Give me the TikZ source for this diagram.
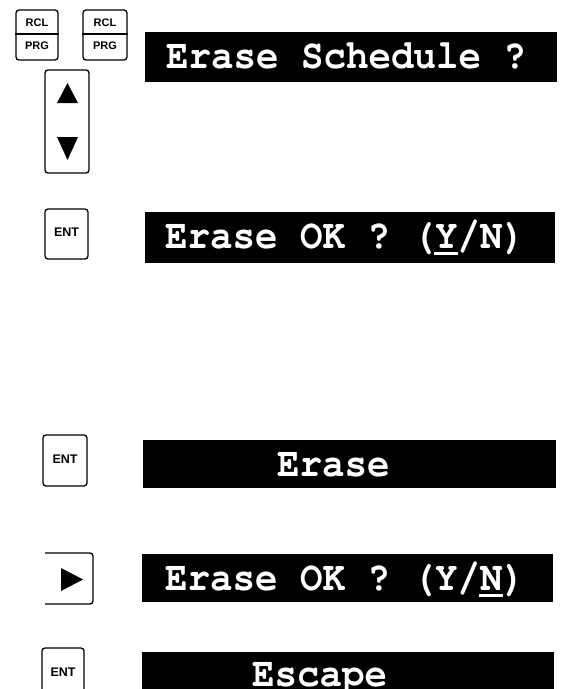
\documentclass[tikz,border=0pt]{standalone}
\usepackage[T1]{fontenc}
\usepackage{fontspec}
\newfontfamily\keyfont{Liberation Sans}
\newcommand\dispfont{\fontencoding{T1}\fontfamily{pcr}\fontseries{b}\fontshape{n}\fontsize{37.5}{40}\selectfont}
\newcommand\ulchar[1]{\makebox[0pt][l]{\hspace{-0.02em}\rule[-6pt]{0.64em}{2.4pt}}#1}
\tikzset{
  keybox/.style={draw, line width=1.3pt, rounded corners=3pt, inner sep=0pt},
  keylabel/.style={font=\keyfont\bfseries\fontsize{11}{12}\selectfont, inner sep=0pt},
  entlabel/.style={font=\keyfont\bfseries\fontsize{12.5}{13}\selectfont, inner sep=0pt},
  dispbar/.style={fill=black, draw=none, inner sep=0pt},
  disptext/.style={text=white, font=\dispfont, inner sep=0pt, anchor=base west, yscale=1.1},
  tri/.style={fill=black, draw=none}
}
\begin{document}
\begin{tikzpicture}[x=1pt, y=-1pt]
\useasboundingbox (0,0) rectangle (565,689);
% RCL/PRG keys
\node[keybox, minimum width=42pt, minimum height=50pt] (k1) at (37,35) {};
\draw[line width=1.1pt] (k1.west |- 0,34) -- (k1.east |- 0,34);
\node[keylabel] (k1a) at (37,23) {RCL};
\node[keylabel] (k1b) at (37,45.5) {PRG};
\node[keybox, minimum width=44pt, minimum height=50pt] (k2) at (105,35) {};
\draw[line width=1.1pt] (k2.west |- 0,34) -- (k2.east |- 0,34);
\node[keylabel] (k2a) at (105,23) {RCL};
\node[keylabel] (k2b) at (105,45.5) {PRG};
% up/down key
\node[keybox, minimum width=44pt, minimum height=103pt] (ud) at (67,121.5) {};
\fill[tri] (57,103) -- (78,103) -- (67.5,83) -- cycle;
\fill[tri] (57,137) -- (78,137) -- (67.5,160) -- cycle;
% display 1
\node[dispbar, minimum width=412pt, minimum height=50pt] (d1) at (351,57) {};
\node[disptext] (t1) at (166,68) {Erase Schedule ?};
% ENT key 1
\node[keybox, minimum width=43pt, minimum height=50pt] (e1) at (66.5,234) {};
\node[entlabel] (e1t) at (66.5,232) {ENT};
% display 2
\node[dispbar, minimum width=410pt, minimum height=51pt] (d2) at (350,237.5) {};
\node[disptext] (t2) at (165,248) {Erase OK ? (\ulchar{Y}/N)};
% ENT key 2
\node[keybox, minimum width=44pt, minimum height=51pt] (e2) at (65,460.5) {};
\node[entlabel] (e2t) at (65,459) {ENT};
% display 3
\node[dispbar, minimum width=413pt, minimum height=48pt] (d3) at (349.5,463.5) {};
\node[disptext] (t3) at (277,476) {Erase};
% right arrow key (open on the left)
\draw[line width=1.3pt, rounded corners=3pt] (45,553) -- (93,553) -- (93,604) -- (45,604);
\fill[tri] (61,568) -- (61,591) -- (83,579.5) -- cycle;
% display 4
\node[dispbar, minimum width=411pt, minimum height=48pt] (d4) at (347.5,578) {};
\node[disptext] (t4) at (165,590) {Erase OK ? (Y/\ulchar{N})};
% ENT key 3
\node[keybox, minimum width=42pt, minimum height=52pt] (e3) at (63,674) {};
\node[entlabel] (e3t) at (63,672) {ENT};
% display 5
\node[dispbar, minimum width=412pt, minimum height=48pt] (d5) at (348,676) {};
\node[disptext] (t5) at (252,686) {Escape};
\end{tikzpicture}
\end{document}
